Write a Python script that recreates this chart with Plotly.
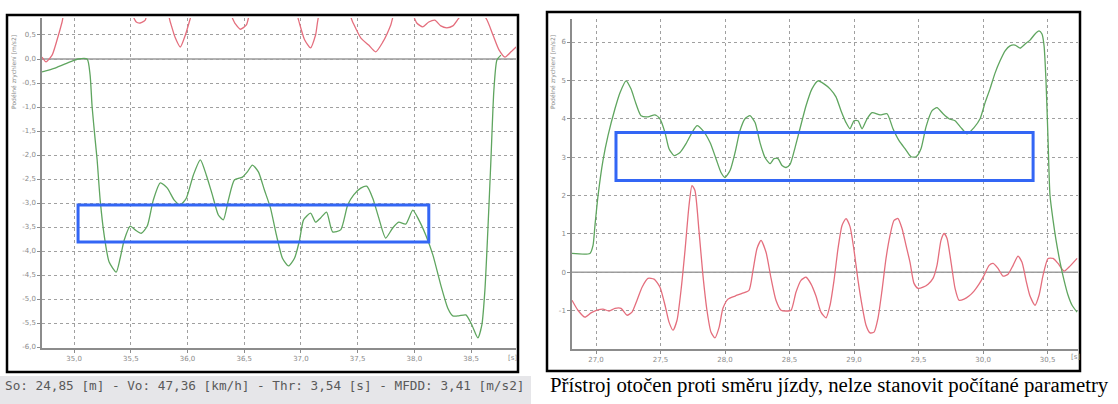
import plotly.graph_objects as go

# ---------------- data: left panel (braking test) ----------------
left_green_t = [34.717, 34.832, 34.965, 35.035, 35.115, 35.141, 35.159, 35.186, 35.203, 35.23, 35.265, 35.309,
                35.371, 35.406, 35.442, 35.495, 35.539, 35.592, 35.645, 35.698, 35.760, 35.822, 35.883, 35.936,
                35.989, 36.051, 36.113, 36.166, 36.219, 36.272, 36.316, 36.360, 36.413, 36.484, 36.528, 36.572,
                36.625, 36.678, 36.731, 36.784, 36.837, 36.890, 36.943, 36.988, 37.023, 37.085, 37.129, 37.173,
                37.226, 37.279, 37.350, 37.412, 37.465, 37.527, 37.580, 37.633, 37.686, 37.747, 37.809, 37.862,
                37.924, 37.986, 38.039, 38.101, 38.163, 38.233, 38.295, 38.339, 38.392, 38.454, 38.507, 38.560,
                38.595, 38.622, 38.648, 38.675, 38.701, 38.728, 38.763]
left_green_v = [-0.27, -0.19, -0.06, 0.0, 0.0, -0.33, -1.0, -1.69, -2.1, -2.94, -3.67, -4.23,
                -4.44, -4.15, -3.77, -3.48, -3.56, -3.63, -3.48, -2.94, -2.58, -2.69, -2.94, -3.04,
                -2.90, -2.42, -2.10, -2.42, -2.83, -3.25, -3.35, -2.94, -2.52, -2.46, -2.35, -2.21,
                -2.35, -2.73, -3.10, -3.67, -4.15, -4.31, -4.15, -3.77, -3.35, -3.21, -3.40, -3.31,
                -3.19, -3.60, -3.56, -3.04, -2.83, -2.69, -2.65, -2.90, -3.31, -3.73, -3.52, -3.40,
                -3.44, -3.15, -3.35, -3.67, -4.08, -4.71, -5.19, -5.35, -5.35, -5.33, -5.54, -5.81,
                -5.54, -4.81, -3.56, -2.10, -0.65, -0.02, 0.08]

left_red_t = [34.717, 34.753, 34.806, 34.850, 34.894, 34.929, 35.23, 35.495, 35.548, 35.583, 35.627, 35.671,
              35.804, 35.848, 35.892, 35.936, 35.981, 36.025, 36.069, 36.334, 36.422, 36.466, 36.519, 36.572,
              36.908, 36.979, 37.032, 37.085, 37.129, 37.173, 37.394, 37.456, 37.527, 37.597, 37.659, 37.721,
              37.792, 37.845, 37.968, 38.021, 38.074, 38.127, 38.180, 38.233, 38.286, 38.339, 38.392, 38.498,
              38.631, 38.693, 38.746, 38.799, 38.852, 38.914]
left_red_v = [0.04, -0.06, 0.08, 0.40, 0.77, 1.12, 1.6, 1.0, 0.77, 0.75, 0.81, 1.2,
              1.12, 0.77, 0.44, 0.25, 0.50, 0.85, 1.2, 1.1, 0.73, 0.62, 0.71, 1.1,
              1.4, 0.81, 0.40, 0.23, 0.5, 1.0, 1.1, 0.77, 0.44, 0.29, 0.15, 0.35,
              0.71, 1.1, 1.0, 0.75, 0.67, 0.77, 0.81, 0.69, 0.65, 0.69, 0.85, 1.12,
              0.85, 0.50, 0.19, 0.04, 0.15, 0.29]

left_box_t = [35.035, 38.127]
left_box_v = [-3.81, -3.04]

left_xticks = [35.0, 35.5, 36.0, 36.5, 37.0, 37.5, 38.0, 38.5]
left_xtext = ["35,0", "35,5", "36,0", "36,5", "37,0", "37,5", "38,0", "38,5"]
left_yticks = [0.5, 0.0, -0.5, -1.0, -1.5, -2.0, -2.5, -3.0, -3.5, -4.0, -4.5, -5.0, -5.5, -6.0]
left_ytext = ["0,5", "0,0", "-0,5", "-1,0", "-1,5", "-2,0", "-2,5", "-3,0", "-3,5", "-4,0", "-4,5",
              "-5,0", "-5,5", "-6,0"]
left_caption = "So: 24,85 [m] - Vo: 47,36 [km/h] - Thr: 3,54 [s] - MFDD: 3,41 [m/s2]"

# ---------------- data: right panel (device turned) ----------------
right_green_t = [26.814, 26.953, 26.977, 26.992, 27.016, 27.054, 27.093, 27.147, 27.186, 27.233, 27.271, 27.310,
                 27.349, 27.403, 27.457, 27.496, 27.535, 27.566, 27.605, 27.651, 27.698, 27.744, 27.783, 27.829,
                 27.884, 27.930, 27.969, 28.0, 28.039, 28.078, 28.116, 28.155, 28.194, 28.233, 28.271, 28.310,
                 28.349, 28.380, 28.411, 28.442, 28.473, 28.504, 28.543, 28.581, 28.628, 28.674, 28.721, 28.767,
                 28.814, 28.860, 28.899, 28.938, 28.969, 29.0, 29.031, 29.062, 29.101, 29.140, 29.202, 29.256,
                 29.302, 29.349, 29.395, 29.442, 29.481, 29.519, 29.558, 29.605, 29.643, 29.690, 29.736, 29.783,
                 29.829, 29.876, 29.930, 29.977, 30.016, 30.054, 30.093, 30.132, 30.171, 30.209, 30.248, 30.287,
                 30.326, 30.364, 30.403, 30.434, 30.457, 30.473, 30.488, 30.504, 30.519, 30.543, 30.566, 30.597,
                 30.628, 30.659, 30.690, 30.729]
right_green_v = [0.49, 0.49, 0.70, 1.22, 2.0, 2.91, 3.56, 4.26, 4.68, 4.99, 4.78, 4.39,
                 4.08, 4.05, 4.10, 4.0, 3.64, 3.22, 3.04, 3.12, 3.35, 3.64, 3.82, 3.69,
                 3.38, 2.96, 2.60, 2.47, 2.65, 3.12, 3.69, 4.0, 4.08, 3.90, 3.38, 2.99,
                 2.83, 2.96, 2.96, 2.78, 2.73, 2.81, 3.25, 3.74, 4.34, 4.78, 4.99, 4.91,
                 4.78, 4.57, 4.21, 3.90, 3.74, 3.95, 3.95, 3.74, 4.0, 4.16, 4.10, 4.13,
                 3.74, 3.43, 3.22, 3.01, 3.01, 3.22, 3.79, 4.21, 4.29, 4.13, 4.0, 3.95,
                 3.77, 3.61, 3.77, 4.0, 4.42, 4.78, 5.19, 5.51, 5.77, 5.90, 5.92, 5.84,
                 5.95, 6.05, 6.21, 6.29, 6.21, 5.90, 4.99, 3.43, 2.0, 1.35, 0.83, 0.26,
                 -0.21, -0.60, -0.86, -1.04]

right_red_t = [26.814, 26.860, 26.915, 26.961, 27.008, 27.054, 27.101, 27.147, 27.194, 27.240, 27.279, 27.318,
               27.357, 27.403, 27.450, 27.496, 27.535, 27.566, 27.597, 27.628, 27.659, 27.690, 27.721, 27.744,
               27.767, 27.798, 27.829, 27.860, 27.891, 27.922, 27.953, 27.984, 28.023, 28.078, 28.132, 28.186,
               28.217, 28.248, 28.279, 28.318, 28.357, 28.395, 28.434, 28.473, 28.512, 28.550, 28.589, 28.628,
               28.667, 28.705, 28.744, 28.783, 28.814, 28.845, 28.876, 28.907, 28.938, 28.969, 29.0, 29.031,
               29.062, 29.093, 29.124, 29.155, 29.186, 29.217, 29.248, 29.279, 29.310, 29.341, 29.372, 29.403,
               29.434, 29.465, 29.496, 29.535, 29.574, 29.612, 29.643, 29.674, 29.698, 29.721, 29.752, 29.783,
               29.814, 29.853, 29.891, 29.930, 29.969, 30.008, 30.047, 30.078, 30.116, 30.155, 30.194, 30.233,
               30.271, 30.302, 30.333, 30.364, 30.403, 30.434, 30.465, 30.504, 30.543, 30.581, 30.628, 30.674,
               30.729]
right_red_v = [-0.73, -0.99, -1.17, -1.06, -0.99, -0.96, -1.01, -0.94, -0.94, -1.12, -1.04, -0.73,
               -0.39, -0.16, -0.18, -0.39, -0.86, -1.30, -1.51, -1.25, -0.47, 0.57, 1.74, 2.26,
               2.13, 1.09, -0.08, -0.99, -1.56, -1.71, -1.45, -0.94, -0.70, -0.62, -0.55, -0.47,
               0.05, 0.62, 0.83, 0.52, -0.16, -0.73, -0.99, -1.01, -0.99, -0.52, -0.21, -0.13,
               -0.31, -0.62, -1.04, -1.19, -0.86, -0.21, 0.62, 1.22, 1.40, 1.19, 0.57, -0.21,
               -0.86, -1.38, -1.58, -1.56, -1.19, -0.47, 0.36, 0.96, 1.35, 1.40, 1.14, 0.70,
               0.26, -0.29, -0.42, -0.39, -0.31, -0.16, 0.18, 0.83, 1.01, 0.88, 0.26, -0.42,
               -0.73, -0.70, -0.62, -0.49, -0.31, -0.08, 0.18, 0.23, 0.10, -0.10, -0.05, 0.18,
               0.42, 0.26, -0.21, -0.62, -0.86, -0.60, -0.08, 0.36, 0.36, 0.23, 0.03, 0.16,
               0.36]

right_box_t = [27.155, 30.388]
right_box_v = [2.39, 3.64]

right_xticks = [27.0, 27.5, 28.0, 28.5, 29.0, 29.5, 30.0, 30.5]
right_xtext = ["27,0", "27,5", "28,0", "28,5", "29,0", "29,5", "30,0", "30,5"]
right_yticks = [-1, 0, 1, 2, 3, 4, 5, 6]
right_ytext = ["-1", "0", "1", "2", "3", "4", "5", "6"]
right_caption = "Přístroj otočen proti směru jízdy, nelze stanovit počítané parametry"

y_title = "Podélné zrychlení [m/s2]"

# ---------------- figure ----------------
W, H = 1118, 404
GREEN = "rgb(95,165,95)"
RED = "rgb(228,110,125)"
BLUE = "#3366f5"


def px(x):
    return x / W


def py(y):
    return 1 - y / H


fig = go.Figure()
line_style = dict(width=1.3, shape="spline", smoothing=0.6)
fig.add_trace(go.Scatter(x=left_red_t, y=left_red_v, mode="lines", line=dict(color=RED, **line_style),
                         xaxis="x", yaxis="y", showlegend=False))
fig.add_trace(go.Scatter(x=left_green_t, y=left_green_v, mode="lines", line=dict(color=GREEN, **line_style),
                         xaxis="x", yaxis="y", showlegend=False))
fig.add_trace(go.Scatter(x=right_red_t, y=right_red_v, mode="lines", line=dict(color=RED, **line_style),
                         xaxis="x2", yaxis="y2", showlegend=False))
fig.add_trace(go.Scatter(x=right_green_t, y=right_green_v, mode="lines", line=dict(color=GREEN, **line_style),
                         xaxis="x2", yaxis="y2", showlegend=False))

axis_common = dict(showgrid=True, gridcolor="#a0a0a0", griddash="dot", gridwidth=1,
                   showline=True, linecolor="#8c8c8c", linewidth=1.5, ticks="outside", ticklen=3,
                   tickcolor="#8c8c8c", tickfont=dict(family="DejaVu Sans", size=7, color="#8a8a8a"),
                   zeroline=False, fixedrange=True, automargin=False)

fig.update_layout(
    width=W, height=H, margin=dict(l=0, r=0, t=0, b=0, autoexpand=False),
    paper_bgcolor="white", plot_bgcolor="white",
    xaxis=dict(domain=[px(42), px(516)], range=[34.717, 38.896], tickvals=left_xticks, ticktext=left_xtext,
               anchor="y", **axis_common),
    yaxis=dict(domain=[py(348), py(18)], range=[-6.02, 0.854], tickvals=left_yticks, ticktext=left_ytext,
               anchor="x", **axis_common),
    xaxis2=dict(domain=[px(572), px(1078)], range=[26.814, 30.736], tickvals=right_xticks, ticktext=right_xtext,
                anchor="y2", **axis_common),
    yaxis2=dict(domain=[py(349), py(19)], range=[-2.0, 6.6], tickvals=right_yticks, ticktext=right_ytext,
                anchor="x2", **axis_common),
)

shapes = []
# zero reference lines
shapes.append(dict(type="line", xref="x", yref="y", x0=34.717, x1=38.896, y0=0, y1=0,
                   line=dict(color="#9a9a9a", width=1.6), layer="below"))
shapes.append(dict(type="line", xref="x2", yref="y2", x0=26.814, x1=30.736, y0=0, y1=0,
                   line=dict(color="#9a9a9a", width=1.6), layer="below"))
# analysis windows
shapes.append(dict(type="rect", xref="x", yref="y", x0=left_box_t[0], x1=left_box_t[1],
                   y0=left_box_v[0], y1=left_box_v[1], line=dict(color=BLUE, width=3)))
shapes.append(dict(type="rect", xref="x2", yref="y2", x0=right_box_t[0], x1=right_box_t[1],
                   y0=right_box_v[0], y1=right_box_v[1], line=dict(color=BLUE, width=3)))
# panel frames
shapes.append(dict(type="rect", xref="paper", yref="paper", x0=px(7), x1=px(518), y0=py(372), y1=py(15),
                   line=dict(color="black", width=2.5)))
shapes.append(dict(type="rect", xref="paper", yref="paper", x0=px(547), x1=px(1080), y0=py(371), y1=py(12),
                   line=dict(color="black", width=2.5)))
# caption strip background (left)
shapes.append(dict(type="rect", xref="paper", yref="paper", x0=0, x1=px(531), y0=0, y1=py(376),
                   line=dict(width=0), fillcolor="#e6e6e9", layer="below"))
fig.update_layout(shapes=shapes)

annotations = [
    dict(text=y_title, xref="paper", yref="paper", x=px(14), y=py(72), textangle=-90, showarrow=False,
         xanchor="center", yanchor="middle", font=dict(family="DejaVu Sans", size=6, color="#8a8a8a")),
    dict(text=y_title, xref="paper", yref="paper", x=px(553), y=py(72), textangle=-90, showarrow=False,
         xanchor="center", yanchor="middle", font=dict(family="DejaVu Sans", size=6, color="#8a8a8a")),
    dict(text="[s]", xref="paper", yref="paper", x=px(512), y=py(358), showarrow=False,
         xanchor="center", yanchor="middle", font=dict(family="DejaVu Sans", size=7, color="#8a8a8a")),
    dict(text="[s]", xref="paper", yref="paper", x=px(1075), y=py(357), showarrow=False,
         xanchor="center", yanchor="middle", font=dict(family="DejaVu Sans", size=7, color="#8a8a8a")),
    dict(text=left_caption, xref="paper", yref="paper", x=px(3), y=py(385), xanchor="left", yanchor="middle",
         showarrow=False, font=dict(family="DejaVu Sans Mono", size=12.7, color="#5a5a5a")),
    dict(text=right_caption, xref="paper", yref="paper", x=px(548), y=py(385), xanchor="left", yanchor="middle",
         showarrow=False, font=dict(family="Liberation Serif", size=20.8, color="black")),
]
fig.update_layout(annotations=annotations)

fig.write_html("out.html", config={"displayModeBar": False},
               post_script="document.body.style.margin='0px';document.body.style.overflow='hidden';")
